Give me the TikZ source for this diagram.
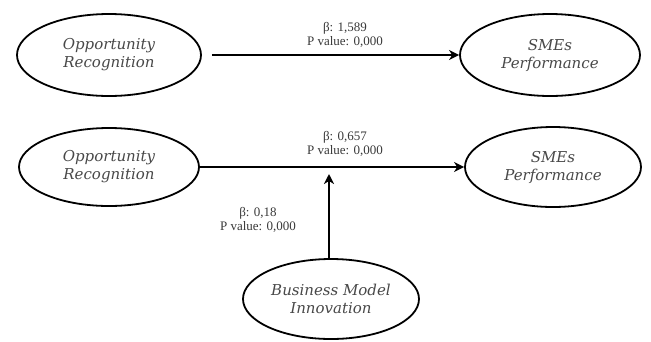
\documentclass[tikz,border=0pt]{standalone}
\usepackage{fontspec}
\setmainfont{Liberation Serif}
\newfontfamily\ellfont{DejaVu Serif}
\usetikzlibrary{shapes.geometric,arrows.meta}
\definecolor{txtgray}{HTML}{484848}
\definecolor{lblgray}{HTML}{383838}
\tikzset{
  construct/.style={ellipse, draw=black, line width=1.8pt, inner sep=0pt,
    minimum width=184pt, minimum height=82pt, align=center,
    font=\ellfont\itshape\fontsize{15}{18}\selectfont, text=txtgray},
  lbl/.style={align=center, inner sep=0pt, font=\fontsize{13}{14.5}\selectfont, text=lblgray},
  path/.style={line width=2.2pt, -{Stealth[length=10pt,width=10pt,inset=3pt]}}
}
\begin{document}
\begin{tikzpicture}[x=1pt,y=-1pt]
\useasboundingbox (0,0) rectangle (651,341);
% top model
\node[construct] (or1) at (109,55) {Opportunity\\Recognition};
\node[construct, minimum width=180pt] (sp1) at (550,55) {SMEs\\Performance};
\draw[path, shorten <=10pt] (or1) -- (sp1);
\node[lbl] (l1) at (345,35) {β: 1,589\\P value: 0,000};
% bottom model
\node[construct, minimum width=180pt, minimum height=78pt] (or2) at (109,167) {Opportunity\\Recognition};
\node[construct, minimum width=176pt, minimum height=80pt] (sp2) at (553,167) {SMEs\\Performance};
\draw[path] (or2) -- (sp2);
\node[lbl] (l2) at (345,144) {β: 0,657\\P value: 0,000};
\node[construct, minimum width=176pt, minimum height=80pt] (bmi) at (331,299) {Business Model\\Innovation};
\coordinate (mod) at (329,174);
\draw[path] (bmi.north -| mod) -- (mod);
\node[lbl] (l3) at (258,220) {β: 0,18\\P value: 0,000};
\end{tikzpicture}
\end{document}
